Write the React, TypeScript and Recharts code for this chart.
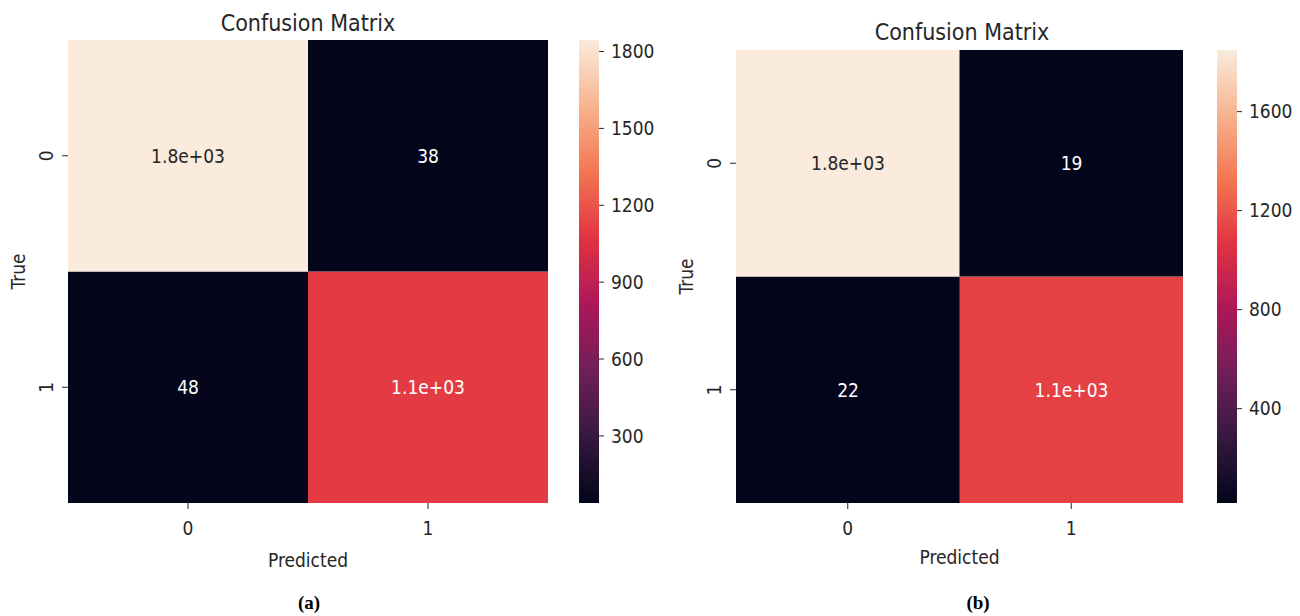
import React from "react";
import { BarChart, Bar, XAxis, YAxis, Cell, LabelList } from "recharts";

// confusion matrices, rows = true label, cols = predicted label
const PRED_LABELS = ["0", "1"];
const TRUE_LABELS = ["0", "1"];
const COUNTS_A = [
  [1845, 38],
  [48, 1100],
];
const COUNTS_B = [
  [1849, 19],
  [22, 1120],
];
const CBAR_TICKS_A = [300, 600, 900, 1200, 1500, 1800];
const CBAR_TICKS_B = [400, 800, 1200, 1600];

// seaborn "rocket" anchors at k/7
const ROCKET = ["#03051a", "#35193e", "#701f57", "#ad1759", "#e13342", "#f37651", "#f6b48f", "#faebdd"];

const FONT = "'DejaVu Sans Condensed', 'DejaVu Sans', sans-serif";
const INK = "#262626";
const FS = 19;

function hexToRgb(h: string) {
  return [1, 3, 5].map((i) => parseInt(h.slice(i, i + 2), 16));
}

function rocket(t: number) {
  const c = Math.max(0, Math.min(1, t)) * (ROCKET.length - 1);
  const i = Math.min(Math.floor(c), ROCKET.length - 2);
  const f = c - i;
  const a = hexToRgb(ROCKET[i]);
  const b = hexToRgb(ROCKET[i + 1]);
  const m = a.map((v, k) => Math.round(v + (b[k] - v) * f));
  return `rgb(${m[0]},${m[1]},${m[2]})`;
}

function luminance(rgb: string) {
  const parts = rgb.match(/\d+/g)!.map((v) => {
    const s = Number(v) / 255;
    return s <= 0.03928 ? s / 12.92 : Math.pow((s + 0.055) / 1.055, 2.4);
  });
  return 0.2126 * parts[0] + 0.7152 * parts[1] + 0.0722 * parts[2];
}

// python's "{:.2g}"
function fmt2g(v: number) {
  return v.toPrecision(2).replace(/e([+-])(\d)$/, "e$10$2");
}

interface PanelProps {
  counts: number[][];
  ticks: number[];
  gradId: string;
  plotLeft: number;
  plotTop: number;
  plotRight: number;
  cbarLeft: number;
  predictedBase: number;
}

function Panel({ counts, ticks, gradId, plotLeft, plotTop, plotRight, cbarLeft, predictedBase }: PanelProps) {
  const flat = counts.flat();
  const vmin = Math.min(...flat);
  const vmax = Math.max(...flat);
  const norm = (v: number) => (v - vmin) / (vmax - vmin);

  const data = PRED_LABELS.map((p, j) => ({
    pred: p,
    row0: 1,
    row1: 1,
    v0: counts[0][j],
    v1: counts[1][j],
  }));

  const axisW = 68;
  const plotBottom = 503;
  const xAxisH = 60;
  const height = 616;

  const annot = (props: any) => {
    const { x, y, width, height: h, value } = props;
    const fill = rocket(norm(value));
    return (
      <text
        x={x + width / 2}
        y={y + h / 2}
        textAnchor="middle"
        dominantBaseline="central"
        fontSize={FS}
        fill={luminance(fill) > 0.408 ? INK : "#ffffff"}
      >
        {fmt2g(value)}
      </text>
    );
  };

  const yTick = (props: any) => {
    const { x, y, payload } = props;
    const label = TRUE_LABELS[Math.floor(2 - payload.value)];
    return (
      <text x={x} y={y} transform={`rotate(-90 ${x} ${y})`} textAnchor="middle" fontSize={FS} fill={INK}>
        {label}
      </text>
    );
  };

  return (
    <>
      <div style={{ position: "absolute", left: plotLeft - axisW, top: 0 }}>
        <BarChart
          width={plotRight - plotLeft + axisW}
          height={height}
          data={data}
          margin={{ top: plotTop, right: 0, bottom: height - plotBottom - xAxisH, left: 0 }}
          barCategoryGap={0}
          barGap={0}
        >
          <XAxis
            dataKey="pred"
            height={xAxisH}
            axisLine={false}
            tickLine={{ stroke: INK }}
            tickSize={6}
            tickMargin={13}
            tick={{ fill: INK, fontSize: FS }}
            label={(p: any) => {
              const vb = p.viewBox;
              return (
                <text x={vb.x + vb.width / 2} y={predictedBase} textAnchor="middle" fontSize={FS} fill={INK}>
                  Predicted
                </text>
              );
            }}
          />
          <YAxis
            type="number"
            domain={[0, 2]}
            ticks={[0.5, 1.5]}
            width={axisW}
            axisLine={false}
            tickLine={{ stroke: INK }}
            tickSize={6}
            tickMargin={9}
            tick={yTick}
            label={(p: any) => {
              const vb = p.viewBox;
              const cy = vb.y + vb.height / 2;
              return (
                <text x={25} y={cy} transform={`rotate(-90 25 ${cy})`} textAnchor="middle" fontSize={FS} fill={INK}>
                  True
                </text>
              );
            }}
          />
          <Bar dataKey="row1" stackId="m" isAnimationActive={false}>
            {data.map((d, i) => (
              <Cell key={i} fill={rocket(norm(d.v1))} />
            ))}
            <LabelList dataKey="v1" content={annot} />
          </Bar>
          <Bar dataKey="row0" stackId="m" isAnimationActive={false}>
            {data.map((d, i) => (
              <Cell key={i} fill={rocket(norm(d.v0))} />
            ))}
            <LabelList dataKey="v0" content={annot} />
          </Bar>
        </BarChart>
      </div>
      <div style={{ position: "absolute", left: cbarLeft, top: 0 }}>
        <BarChart
          width={100}
          height={height}
          data={[{ name: "cbar", range: [vmin, vmax] }]}
          margin={{ top: plotTop, right: 0, bottom: height - plotBottom, left: 0 }}
          barCategoryGap={0}
        >
          <defs>
            <linearGradient id={gradId} x1="0" y1="1" x2="0" y2="0">
              {ROCKET.map((c, i) => (
                <stop key={i} offset={i / (ROCKET.length - 1)} stopColor={c} />
              ))}
            </linearGradient>
          </defs>
          <XAxis dataKey="name" hide />
          <YAxis
            type="number"
            orientation="right"
            domain={[vmin, vmax]}
            ticks={ticks}
            width={80}
            axisLine={false}
            tickLine={{ stroke: INK }}
            tickSize={5}
            tickMargin={7}
            tick={{ fill: INK, fontSize: FS }}
          />
          <Bar dataKey="range" fill={`url(#${gradId})`} isAnimationActive={false} />
        </BarChart>
      </div>
    </>
  );
}

export default function App() {
  return (
    <div
      style={{
        position: "absolute",
        left: 0,
        top: 0,
        width: 1300,
        height: 616,
        background: "#ffffff",
        fontFamily: FONT,
        overflow: "hidden",
      }}
    >
      <Panel
        counts={COUNTS_A}
        ticks={CBAR_TICKS_A}
        gradId="rocketA"
        plotLeft={68}
        plotTop={40}
        plotRight={548}
        cbarLeft={579}
        predictedBase={567}
      />
      <Panel
        counts={COUNTS_B}
        ticks={CBAR_TICKS_B}
        gradId="rocketB"
        plotLeft={736}
        plotTop={50}
        plotRight={1183}
        cbarLeft={1217}
        predictedBase={564}
      />
      <svg width={1300} height={616} style={{ position: "absolute", left: 0, top: 0, pointerEvents: "none" }}>
        <text x={308} y={31} textAnchor="middle" fontSize={23} fill={INK} fontFamily={FONT}>
          Confusion Matrix
        </text>
        <text x={962} y={40} textAnchor="middle" fontSize={23} fill={INK} fontFamily={FONT}>
          Confusion Matrix
        </text>
        <text x={309} y={609} textAnchor="middle" fontSize={19} fontWeight="bold" fill="#000" fontFamily="'Liberation Serif', serif">
          (a)
        </text>
        <text x={978} y={609} textAnchor="middle" fontSize={19} fontWeight="bold" fill="#000" fontFamily="'Liberation Serif', serif">
          (b)
        </text>
      </svg>
    </div>
  );
}
